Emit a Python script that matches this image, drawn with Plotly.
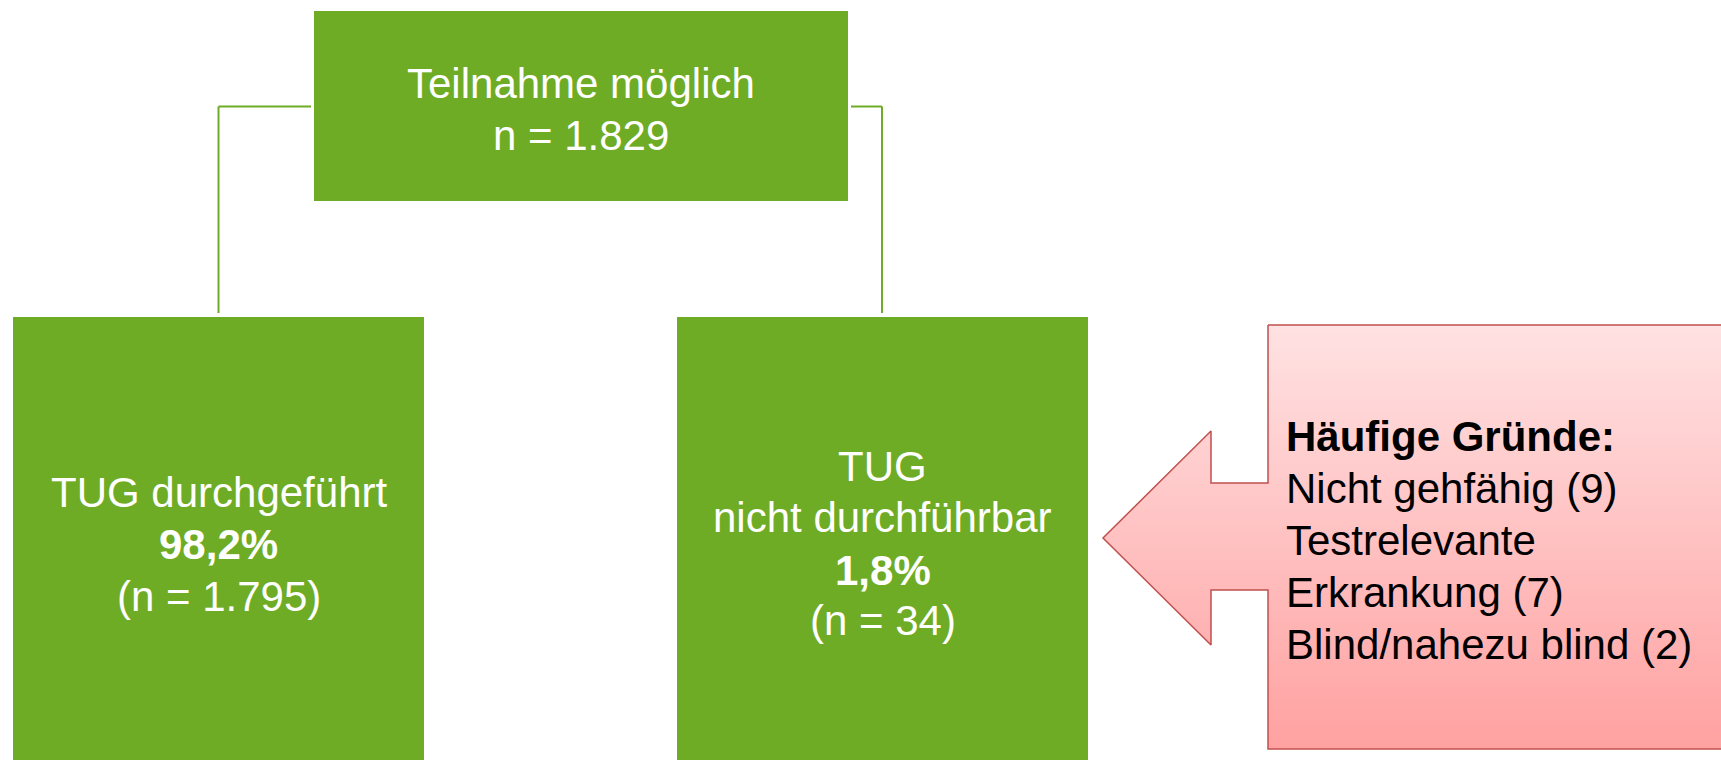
import plotly.graph_objects as go

# ---- data ----
top_label = ["Teilnahme möglich", "n = 1.829"]
left_label = ["TUG durchgeführt", "<b>98,2%</b>", "(n = 1.795)"]
mid_label = ["TUG", "nicht durchführbar", "<b>1,8%</b>", "(n = 34)"]
reason_title = "<b>Häufige Gründe:</b>"
reason_lines = ["Nicht gehfähig (9)", "Testrelevante", "Erkrankung (7)", "Blind/nahezu blind (2)"]

# ---- layout / styling ----
W, H = 1721, 760
GREEN = "#6FAC25"
FONT = "Arial, Liberation Sans, sans-serif"
FS = 42

fig = go.Figure()

# green boxes (x0, y0, x1, y1) in pixel-like coordinates (y downwards)
boxes = [(314, 11, 848, 201), (13, 317, 424, 775), (677, 317, 1088, 775)]
shapes = []
for x0, y0, x1, y1 in boxes:
    shapes.append(dict(type="rect", x0=x0, y0=y0, x1=x1, y1=y1, xref="x", yref="y",
                       fillcolor=GREEN, line=dict(width=0), layer="below"))

# connector lines
conn = [
    (311, 106.5, 218.5, 106.5), (218.5, 106.5, 218.5, 313),
    (851, 106.5, 882, 106.5), (882, 106.5, 882, 313),
]
for x0, y0, x1, y1 in conn:
    shapes.append(dict(type="line", x0=x0, y0=y0, x1=x1, y1=y1, xref="x", yref="y",
                       line=dict(color=GREEN, width=2)))

# callout (rectangle + left arrow), gradient fill
cx = [1268, 1735, 1735, 1268, 1268, 1211, 1211, 1103, 1211, 1211, 1268, 1268]
cy = [325, 325, 749, 749, 590, 590, 645, 538, 431, 483, 483, 325]
fig.add_trace(go.Scatter(
    x=cx, y=cy, mode="lines", fill="toself",
    line=dict(color="#C0504D", width=1.5),
    fillgradient=dict(type="vertical", start=325, stop=749,
                      colorscale=[[0, "#FFE2E3"], [1, "#FFA1A1"]]),
    hoverinfo="skip", showlegend=False,
))

annotations = []

def add_lines(lines, x, ys, color, anchor="center"):
    for t, y in zip(lines, ys):
        annotations.append(dict(x=x, y=y, xref="x", yref="y", text=t, showarrow=False,
                                xanchor=anchor, yanchor="middle", align=anchor,
                                font=dict(family=FONT, size=FS, color=color)))

add_lines(top_label, 581, [83, 135], "white")
add_lines(left_label, 218.5, [492, 544, 596], "white")
add_lines(mid_label, 882.5, [466, 517, 570, 620], "white")
add_lines([reason_title] + reason_lines, 1284, [436, 488, 540, 592, 644], "black", anchor="left")

fig.update_layout(
    width=W, height=H, margin=dict(l=0, r=0, t=0, b=0),
    paper_bgcolor="white", plot_bgcolor="white",
    xaxis=dict(range=[0, W], visible=False, fixedrange=True),
    yaxis=dict(range=[H, 0], visible=False, fixedrange=True),
    shapes=shapes, annotations=annotations, showlegend=False,
)

fig.write_html("out.html", config={"displayModeBar": False},
               post_script="document.body.style.margin='0';document.body.style.overflow='hidden';")
